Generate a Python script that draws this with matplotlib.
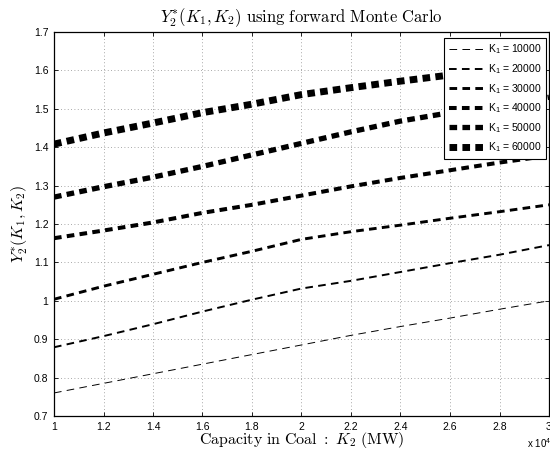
import numpy as np
import matplotlib
matplotlib.use("Agg")
import matplotlib.pyplot as plt

plt.rcParams['font.family'] = ['Liberation Sans', 'DejaVu Sans']
plt.rcParams['mathtext.fontset'] = 'custom'
plt.rcParams['mathtext.rm'] = 'Liberation Sans'
plt.rcParams['mathtext.it'] = 'Liberation Sans:italic'

# Data (K2 in units of 1e4 MW)
k2 = [1.0, 1.2, 1.4, 1.6, 1.8, 2.0, 2.2, 2.4, 2.6, 2.8, 3.0]
k1_labels = ["10000", "20000", "30000", "40000", "50000", "60000"]
y_10000 = [0.760, 0.785, 0.810, 0.835, 0.860, 0.885, 0.910, 0.933, 0.955, 0.978, 1.000]
y_20000 = [0.879, 0.908, 0.939, 0.972, 1.003, 1.032, 1.052, 1.075, 1.098, 1.120, 1.145]
y_30000 = [1.004, 1.038, 1.069, 1.100, 1.129, 1.160, 1.180, 1.197, 1.215, 1.232, 1.250]
y_40000 = [1.163, 1.183, 1.204, 1.229, 1.250, 1.274, 1.298, 1.320, 1.340, 1.360, 1.378]
y_50000 = [1.270, 1.297, 1.322, 1.350, 1.380, 1.410, 1.440, 1.468, 1.490, 1.510, 1.530]
y_60000 = [1.408, 1.437, 1.463, 1.490, 1.512, 1.537, 1.555, 1.572, 1.588, 1.603, 1.620]
series = [y_10000, y_20000, y_30000, y_40000, y_50000, y_60000]

widths = [0.7, 1.4, 2.1, 2.9, 3.8, 5.0]

fig = plt.figure(figsize=(5.5, 4.54), dpi=100)
ax = fig.add_axes([54/550, 1 - 416/454, 495/550, 384/454])

for lbl, ys, w in zip(k1_labels, series, widths):
    line, = ax.plot(k2, ys, color='black', lw=w, dash_capstyle='butt',
                    label="K$_1$ = " + lbl)
    # dash lengths in points, independent of width
    line.set_dashes([5.5 / w, 3.8 / w])

ax.set_xlim(1, 3)
ax.set_ylim(0.7, 1.7)
ax.set_xticks(np.arange(1, 3.01, 0.2))
ax.set_xticklabels(['1', '1.2', '1.4', '1.6', '1.8', '2', '2.2', '2.4', '2.6', '2.8', '3'])
ax.set_yticks(np.arange(0.7, 1.71, 0.1))
ax.set_yticklabels(['0.7', '0.8', '0.9', '1', '1.1', '1.2', '1.3', '1.4', '1.5', '1.6', '1.7'])
ax.tick_params(direction='in', top=True, right=True, labelsize=7.5, length=3, width=0.6, pad=4)
ax.grid(True, color='0.55', linestyle=(0, (1, 3)), lw=0.6)
for s in ax.spines.values():
    s.set_linewidth(0.9)

ax.set_title(r"$Y_2^{*}(K_1,K_2)\ \mathrm{using\ forward\ Monte\ Carlo}$",
             fontsize=12, pad=7, math_fontfamily='cm')
ax.set_xlabel(r"$\mathrm{Capacity\ in\ Coal\ :}\ K_2\ \mathrm{(MW)}$", fontsize=11.5,
              labelpad=-1, math_fontfamily='cm')
ax.set_ylabel(r"$Y_2^{*}(K_1,K_2)$", fontsize=11.5, labelpad=3, math_fontfamily='cm')
fig.text(527/550, 1 - 448/454, r"x 10$^4$", fontsize=7)

leg = ax.legend(loc='upper right', bbox_to_anchor=(546/550, 1 - 38/454),
                bbox_transform=fig.transFigure, borderaxespad=0, fontsize=7.5,
                fancybox=False, framealpha=1, edgecolor='black',
                handlelength=3.4, handletextpad=0.3, labelspacing=0.55,
                borderpad=0.45)
leg.get_frame().set_linewidth(0.8)

fig.savefig("out.png", dpi=100)
